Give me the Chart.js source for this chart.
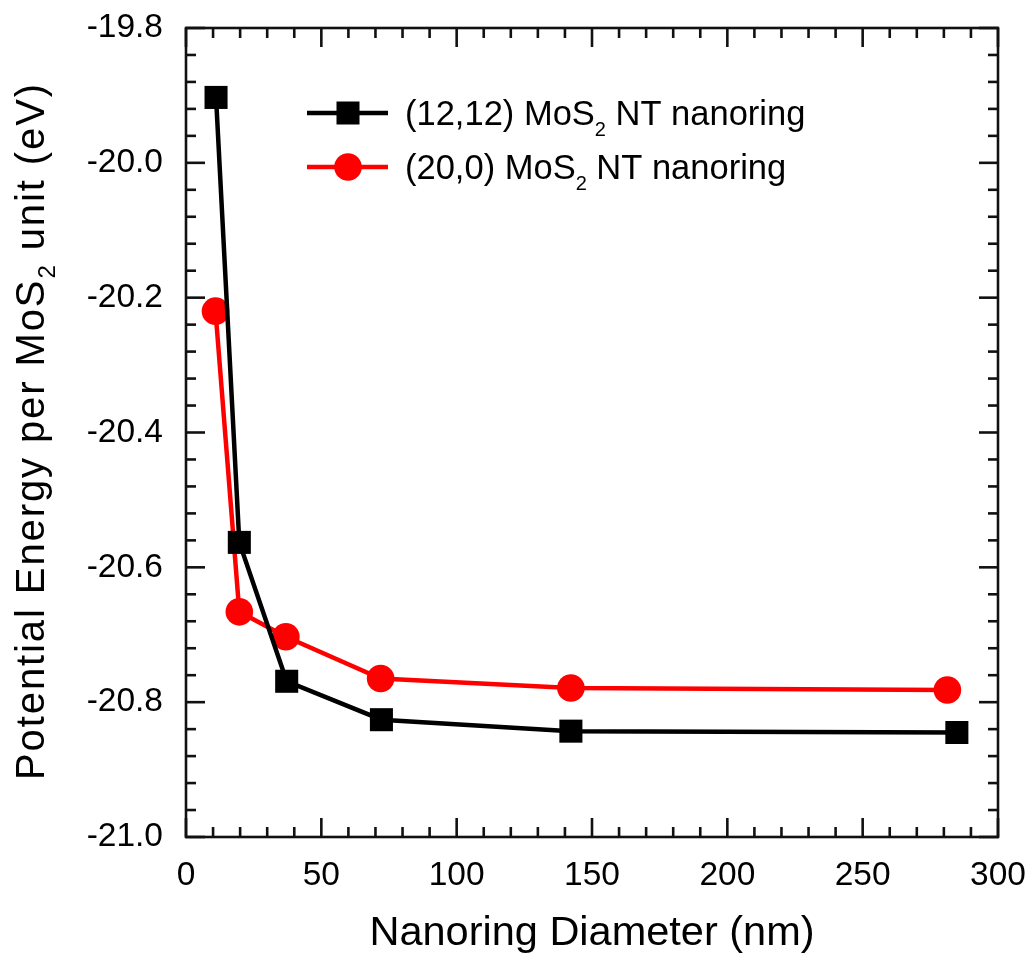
<!DOCTYPE html>
<html><head><meta charset="utf-8">
<script src="https://cdn.jsdelivr.net/npm/chart.js@4.4.1/dist/chart.umd.min.js"></script>
<style>html,body{margin:0;padding:0;background:#fff}#wrap{width:1031px;height:960px;position:relative}</style>
</head><body><div id="wrap"><canvas id="c"></canvas></div>
<script>
// ---- data ----
const diam1212 = [11.1, 19.7, 37.2, 72.2, 142.2, 284.8];
const energy1212 = [-19.903, -20.563, -20.769, -20.826, -20.843, -20.845];
const diam200 = [10.9, 19.7, 36.9, 71.9, 142.2, 281.3];
const energy200 = [-20.220, -20.666, -20.703, -20.765, -20.779, -20.782];
const seriesNames = [["(12,12) MoS", "2", " NT nanoring"], ["(20,0) MoS", "2", " NT nanoring"]];
const xTickValues = [0, 50, 100, 150, 200, 250, 300];
const xTickLabels = ["0", "50", "100", "150", "200", "250", "300"];
const yTickValues = [-21.0, -20.8, -20.6, -20.4, -20.2, -20.0, -19.8];
const yTickLabels = ["-21.0", "-20.8", "-20.6", "-20.4", "-20.2", "-20.0", "-19.8"];
const xMinorStep = 10;
const yMinorStep = 0.04;
const xTitle = "Nanoring Diameter (nm)";
const yTitleParts = ["Potential Energy per MoS", "2", " unit (eV)"];

const FONT = "'Liberation Sans', Arial, sans-serif";

function pts(xs, ys) { return xs.map((v, i) => ({x: v, y: ys[i]})); }

function drawParts(ctx, parts, x, y, size, subSize, subDrop, spacing) {
  let cx = x;
  parts.forEach((p, i) => {
    const sub = (i === 1);
    ctx.font = (sub ? subSize : size) + "px " + FONT;
    for (const ch of p) {
      ctx.fillText(ch, cx, sub ? y + subDrop : y);
      cx += ctx.measureText(ch).width + spacing;
    }
  });
  return cx - x;
}
function partsWidth(ctx, parts, size, subSize, spacing) {
  let w = 0;
  parts.forEach((p, i) => {
    ctx.font = (i === 1 ? subSize : size) + "px " + FONT;
    for (const ch of p) w += ctx.measureText(ch).width + spacing;
  });
  return w;
}

const framePlugin = {
  id: 'framePlugin',
  afterDraw(chart) {
    const {ctx, chartArea: a, scales: {x, y}} = chart;
    ctx.save();
    ctx.strokeStyle = '#111';
    ctx.lineWidth = 2.6;
    ctx.lineCap = 'butt';
    const line = (x1, y1, x2, y2) => { ctx.beginPath(); ctx.moveTo(x1, y1); ctx.lineTo(x2, y2); ctx.stroke(); };
    const nx = Math.round((x.max - x.min) / xMinorStep);
    for (let i = 0; i <= nx; i++) {
      const v = x.min + i * xMinorStep;
      const px = x.getPixelForValue(v);
      const major = xTickValues.some(t => Math.abs(t - v) < 1e-6);
      const len = major ? 19 : 10;
      line(px, a.bottom, px, a.bottom - len);
      line(px, a.top, px, a.top + len);
    }
    const ny = Math.round((y.max - y.min) / yMinorStep);
    for (let i = 0; i <= ny; i++) {
      const v = y.min + i * yMinorStep;
      const py = y.getPixelForValue(v);
      const major = yTickValues.some(t => Math.abs(t - v) < 1e-6);
      const len = major ? 19 : 10;
      line(a.left, py, a.left + len, py);
      line(a.right, py, a.right - len, py);
    }
    ctx.strokeRect(a.left, a.top, a.right - a.left, a.bottom - a.top);

    // y title
    ctx.fillStyle = '#000';
    ctx.textBaseline = 'alphabetic';
    ctx.textAlign = 'left';
    const ys = 40, ysub = 24, sp = 1.9;
    const w = partsWidth(ctx, yTitleParts, ys, ysub, sp);
    ctx.save();
    ctx.translate(44, 431);
    ctx.rotate(-Math.PI / 2);
    drawParts(ctx, yTitleParts, -w / 2, 0, ys, ysub, 11, sp);
    ctx.restore();

    // legend
    const ds = chart.data.datasets;
    const lx1 = 307, lx2 = 388, mx = 348, tx = 405;
    const rows = [113, 167];
    ds.forEach((d, i) => {
      const ly = rows[i];
      ctx.strokeStyle = d.borderColor;
      ctx.lineWidth = 4.5;
      line(lx1, ly, lx2, ly);
      ctx.fillStyle = d.pointBackgroundColor;
      if (d.pointStyle === 'rect') {
        const s = 23;
        ctx.fillRect(mx - s / 2, ly - s / 2, s, s);
      } else {
        ctx.beginPath(); ctx.arc(mx, ly, 13.8, 0, Math.PI * 2); ctx.fill();
      }
      ctx.fillStyle = '#000';
      drawParts(ctx, seriesNames[i], tx, ly + 12, 34.5, 20, 11, 0);
    });
    ctx.restore();
  }
};

new Chart(document.getElementById('c'), {
  type: 'scatter',
  data: {
    datasets: [
      {
        label: '(12,12) MoS2 NT nanoring',
        data: pts(diam1212, energy1212),
        showLine: true,
        borderColor: '#000000',
        backgroundColor: '#000000',
        borderWidth: 4.5,
        pointStyle: 'rect',
        pointRadius: 16.3,
        pointBackgroundColor: '#000000',
        pointBorderWidth: 0,
        tension: 0
      },
      {
        label: '(20,0) MoS2 NT nanoring',
        data: pts(diam200, energy200),
        showLine: true,
        borderColor: '#ff0000',
        backgroundColor: '#ff0000',
        borderWidth: 4.5,
        pointStyle: 'circle',
        pointRadius: 13.8,
        pointBackgroundColor: '#ff0000',
        pointBorderWidth: 0,
        tension: 0
      }
    ]
  },
  options: {
    responsive: true,
    maintainAspectRatio: false,
    animation: false,
    layout: {padding: {top: 28, right: 33, left: 0, bottom: 0}},
    plugins: {legend: {display: false}, tooltip: {enabled: false}},
    scales: {
      x: {
        type: 'linear', min: 0, max: 300,
        afterBuildTicks: s => { s.ticks = xTickValues.map(v => ({value: v})); },
        afterFit: s => { s.height = 123; s.paddingLeft = 0; s.paddingRight = 0; },
        grid: {display: false, drawTicks: false},
        border: {display: false},
        ticks: {
          color: '#000', padding: 19, maxRotation: 0, autoSkip: false,
          font: {family: FONT, size: 33.5},
          callback: (v) => { const i = xTickValues.indexOf(v); return i >= 0 ? xTickLabels[i] : ''; }
        },
        title: {display: true, text: xTitle, color: '#000', font: {family: FONT, size: 41.5, lineHeight: 1.2}, padding: {top: 0, bottom: 2}}
      },
      y: {
        type: 'linear', min: -21.0, max: -19.8,
        afterBuildTicks: s => { s.ticks = yTickValues.map(v => ({value: v})); },
        afterFit: s => { s.width = 186; s.paddingTop = 0; s.paddingBottom = 0; },
        grid: {display: false, drawTicks: false},
        border: {display: false},
        ticks: {
          color: '#000', padding: 23, autoSkip: false,
          font: {family: FONT, size: 33.5},
          callback: (v) => { const i = yTickValues.findIndex(t => Math.abs(t - v) < 1e-6); return i >= 0 ? yTickLabels[i] : ''; }
        }
      }
    }
  },
  plugins: [framePlugin]
});
</script>
</body></html>
